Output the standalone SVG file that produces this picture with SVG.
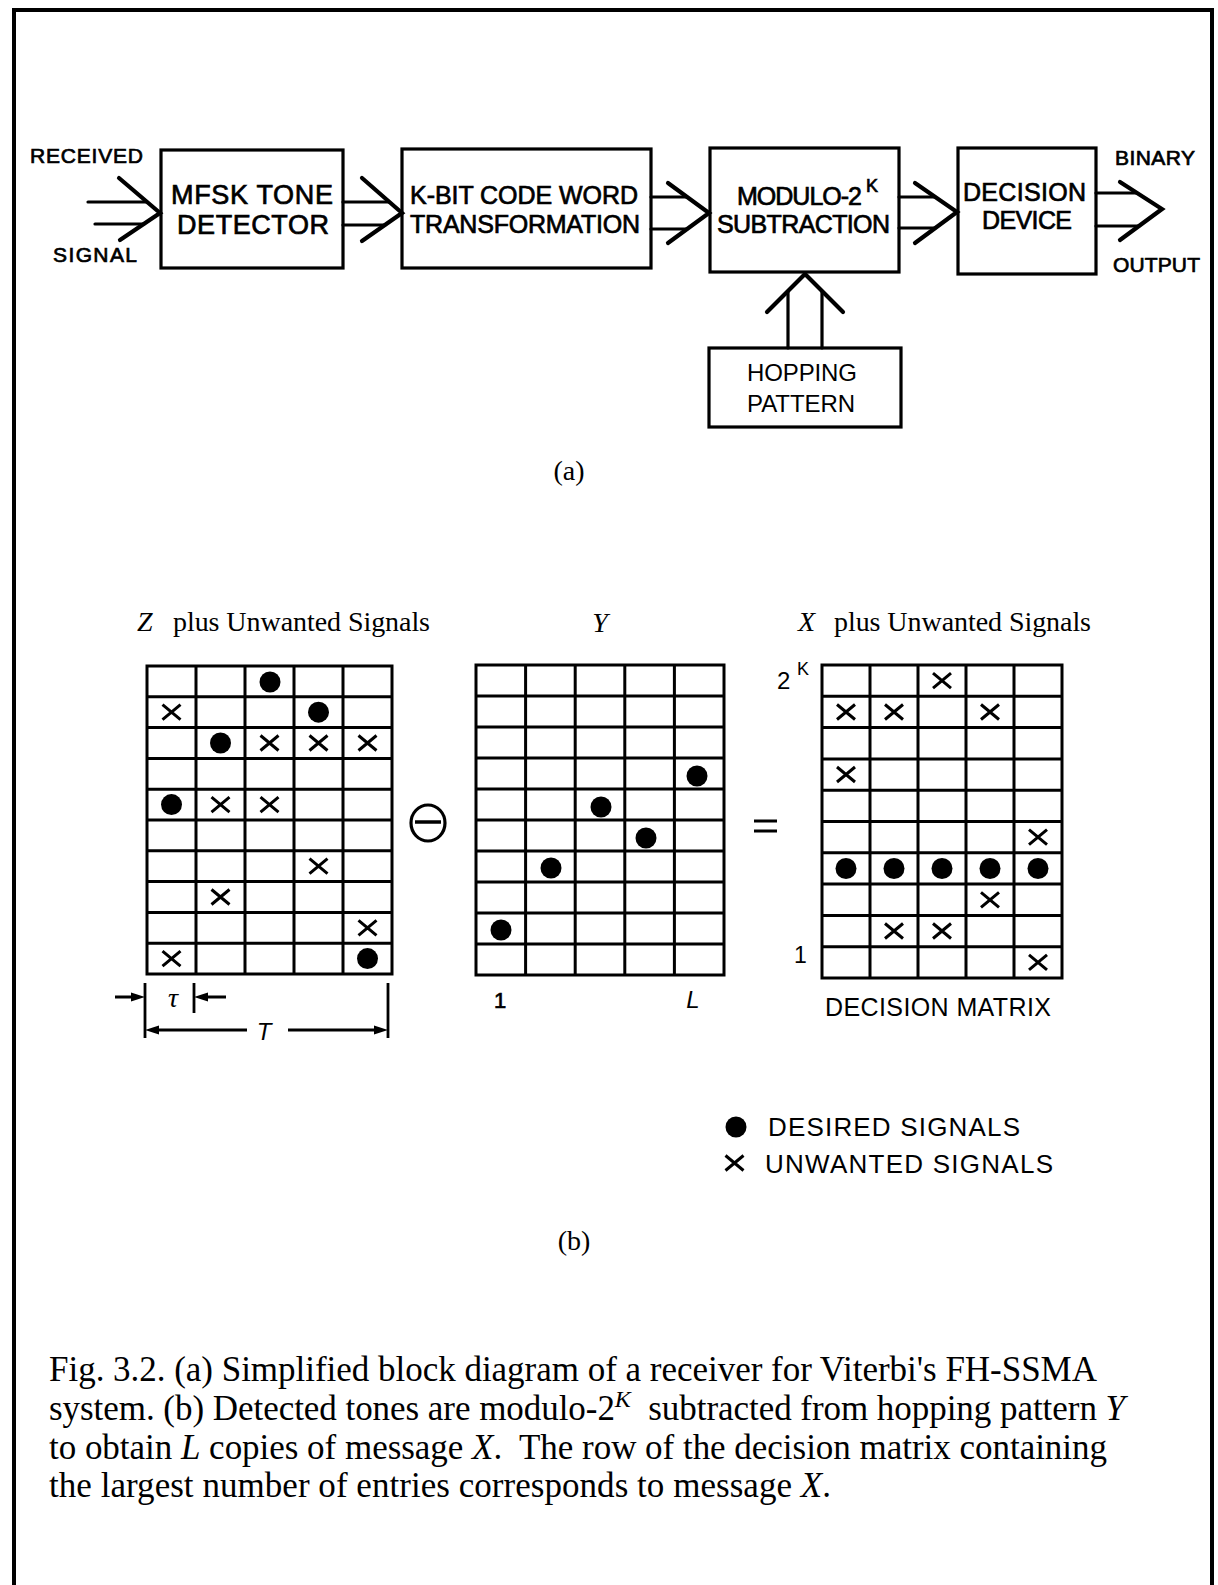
<svg xmlns="http://www.w3.org/2000/svg" width="1218" height="1585" viewBox="0 0 1218 1585">
<style>
.bx{fill:none;stroke:#000;stroke-width:3.2}
.ln{fill:none;stroke:#000;stroke-width:3.2;stroke-linecap:round;stroke-linejoin:round}
.ch{fill:none;stroke:#000;stroke-width:4.2;stroke-linecap:round;stroke-linejoin:miter}
.gr{fill:none;stroke:#000;stroke-width:3}
.xm{fill:none;stroke:#000;stroke-width:3;stroke-linecap:butt}
.sb{font-family:"Liberation Sans",Arial,sans-serif;fill:#000;stroke:#000;stroke-width:0.7}
.sr{font-family:"Liberation Sans",Arial,sans-serif;fill:#000}
.tm{font-family:"Liberation Serif","Times New Roman",serif;fill:#000}
.it{font-style:italic}
</style>
<defs>
<circle id="dot" r="10.5" fill="#000"/>
<path id="xx" class="xm" d="M-9,-7.5 L9,7.5 M-9,7.5 L9,-7.5"/>
</defs>
<rect width="1218" height="1585" fill="#fff"/>
<path d="M14,1585 L14,10 L1212,10 L1212,1585" fill="none" stroke="#000" stroke-width="4"/>

<!-- Part (a) -->
<g id="lbl-received">
<text class="sb" x="30" y="163" font-size="21" textLength="113">RECEIVED</text>
<text class="sb" x="53" y="262" font-size="21" textLength="84">SIGNAL</text>
</g>
<g id="node-mfsk">
<rect class="bx" x="161" y="150" width="182" height="118"/>
<text class="sb" x="171" y="204" font-size="27" textLength="162">MFSK TONE</text>
<text class="sb" x="177" y="234" font-size="27" textLength="152">DETECTOR</text>
</g>
<g id="node-kbit">
<rect class="bx" x="402" y="149" width="249" height="119"/>
<text class="sb" x="410" y="204" font-size="25" textLength="228">K-BIT CODE WORD</text>
<text class="sb" x="410" y="233" font-size="25" textLength="230">TRANSFORMATION</text>
</g>
<g id="node-modulo">
<rect class="bx" x="710" y="148" width="189" height="124"/>
<text class="sb" x="737" y="205" font-size="25" textLength="125">MODULO-2</text>
<text class="sb" x="866" y="192" font-size="18" textLength="16">K</text>
<text class="sb" x="717" y="233" font-size="25" textLength="173">SUBTRACTION</text>
</g>
<g id="node-decision">
<rect class="bx" x="958" y="148" width="138" height="126"/>
<text class="sb" x="963" y="201" font-size="25" textLength="123">DECISION</text>
<text class="sb" x="982" y="229" font-size="25" textLength="90">DEVICE</text>
</g>
<g id="lbl-binary">
<text class="sb" x="1115" y="165" font-size="21" textLength="80">BINARY</text>
<text class="sb" x="1113" y="272" font-size="21" textLength="87">OUTPUT</text>
</g>
<g id="node-hopping">
<rect class="bx" x="709" y="348" width="192" height="79"/>
<text class="sr" x="747" y="381" font-size="24" textLength="110">HOPPING</text>
<text class="sr" x="747" y="412" font-size="24" textLength="108">PATTERN</text>
</g>

<g id="connectors">
<path class="ln" d="M88,202 L147,202 M95,224 L144,224"/>
<path class="ch" d="M119,178 L160,213 L120,240"/>
<path class="ln" d="M343,202 L389,202 M343,225 L385,225"/>
<path class="ch" d="M362,178 L402,213 L362,241"/>
<path class="ln" d="M651,197 L687,197 M651,229 L687,229"/>
<path class="ch" d="M668,183 L709,213 L668,243"/>
<path class="ln" d="M899,197 L935,197 M899,228 L935,228"/>
<path class="ch" d="M915,183 L957,212 L915,243"/>
<path class="ln" d="M1096,193 L1137,193 M1096,226 L1139,226"/>
<path class="ch" d="M1120,182 L1162,209 L1120,240"/>
<path class="ln" d="M788,348 L788,291 M822,348 L822,291"/>
<path class="ch" d="M767,312 L805,274 L843,312"/>
</g>

<text class="tm" x="569" y="480" font-size="28" text-anchor="middle">(a)</text>

<!-- Part (b) -->
<g id="title-z">
<text class="tm it" x="137" y="631" font-size="28">Z</text>
<text class="tm" x="173" y="631" font-size="28" textLength="257">plus Unwanted Signals</text>
</g>
<g id="title-y"><text class="tm it" x="600" y="632" font-size="28" text-anchor="middle">Y</text></g>
<g id="title-x">
<text class="tm it" x="798" y="631" font-size="28">X</text>
<text class="tm" x="834" y="631" font-size="28" textLength="257">plus Unwanted Signals</text>
</g>

<g id="grid-z">
<rect class="gr" x="147" y="666" width="245" height="308"/>
<path class="gr" d="M196,666V974M245,666V974M294,666V974M343,666V974
M147,696.8H392M147,727.6H392M147,758.4H392M147,789.2H392M147,820H392M147,850.8H392M147,881.6H392M147,912.4H392M147,943.2H392"/>
<use href="#dot" x="270" y="682"/>
<use href="#xx" x="171.5" y="712.2"/>
<use href="#dot" x="318.5" y="712.2"/>
<use href="#dot" x="220.5" y="743"/>
<use href="#xx" x="269.5" y="743"/>
<use href="#xx" x="318.5" y="743"/>
<use href="#xx" x="367.5" y="743"/>
<use href="#dot" x="171.5" y="804.6"/>
<use href="#xx" x="220.5" y="804.6"/>
<use href="#xx" x="269.5" y="804.6"/>
<use href="#xx" x="318.5" y="866.2"/>
<use href="#xx" x="220.5" y="897"/>
<use href="#xx" x="367.5" y="927.8"/>
<use href="#xx" x="171.5" y="958.6"/>
<use href="#dot" x="367.5" y="958.6"/>
</g>

<g id="op-minus">
<ellipse cx="428" cy="823" rx="17" ry="18" fill="none" stroke="#000" stroke-width="3.2"/>
<path d="M415,822 H441" stroke="#000" stroke-width="3.5"/>
</g>

<g id="grid-y">
<rect class="gr" x="476" y="665" width="248" height="310"/>
<path class="gr" d="M525.6,665V975M575.2,665V975M624.8,665V975M674.4,665V975
M476,696H724M476,727H724M476,758H724M476,789H724M476,820H724M476,851H724M476,882H724M476,913H724M476,944H724"/>
<use href="#dot" x="697" y="776"/>
<use href="#dot" x="601" y="807"/>
<use href="#dot" x="646" y="838"/>
<use href="#dot" x="551" y="868"/>
<use href="#dot" x="501" y="930"/>
<text class="sb" x="500" y="1008" font-size="22" text-anchor="middle" stroke-width="0.4">1</text>
<text class="sr it" x="693" y="1008" font-size="24" text-anchor="middle">L</text>
</g>

<g id="op-equals">
<path d="M754,821 H777 M754,831 H777" stroke="#000" stroke-width="3"/>
</g>

<g id="grid-x">
<rect class="gr" x="822" y="665" width="240" height="313"/>
<path class="gr" d="M870,665V978M918,665V978M966,665V978M1014,665V978
M822,696.3H1062M822,727.6H1062M822,758.9H1062M822,790.2H1062M822,821.5H1062M822,852.8H1062M822,884.1H1062M822,915.4H1062M822,946.7H1062"/>
<use href="#xx" x="942" y="680.7"/>
<use href="#xx" x="846" y="712"/>
<use href="#xx" x="894" y="712"/>
<use href="#xx" x="990" y="712"/>
<use href="#xx" x="846" y="774.5"/>
<use href="#xx" x="1038" y="837.2"/>
<use href="#dot" x="846" y="868.5"/>
<use href="#dot" x="894" y="868.5"/>
<use href="#dot" x="942" y="868.5"/>
<use href="#dot" x="990" y="868.5"/>
<use href="#dot" x="1038" y="868.5"/>
<use href="#xx" x="990" y="899.8"/>
<use href="#xx" x="894" y="931"/>
<use href="#xx" x="942" y="931"/>
<use href="#xx" x="1038" y="962.4"/>
<text class="sr" x="777" y="689" font-size="24">2</text>
<text class="sr" x="797" y="675" font-size="18">K</text>
<text class="sr" x="794" y="963" font-size="23">1</text>
<text class="sr" x="825" y="1016" font-size="25" textLength="226">DECISION MATRIX</text>
</g>

<g id="dim-tau-t">
<path d="M145,983V1038M194,983V1013M388,983V1038" stroke="#000" stroke-width="2.8" fill="none"/>
<path d="M115,997H133M208,997H226M157,1030H247M288,1030H376" stroke="#000" stroke-width="2.8" fill="none"/>
<polygon points="145,997 131,992.5 131,1001.5" fill="#000"/>
<polygon points="194,997 208,992.5 208,1001.5" fill="#000"/>
<polygon points="145,1030 159,1025.5 159,1034.5" fill="#000"/>
<polygon points="388,1030 374,1025.5 374,1034.5" fill="#000"/>
<text class="tm it" x="173" y="1007" font-size="28" text-anchor="middle">τ</text>
<text class="sr it" x="264" y="1040" font-size="24" text-anchor="middle">T</text>
</g>

<g id="legend">
<use href="#dot" x="736" y="1127"/>
<use href="#xx" x="734.5" y="1163"/>
<text class="sr" x="768" y="1136" font-size="26" textLength="252">DESIRED SIGNALS</text>
<text class="sr" x="765" y="1173" font-size="26" textLength="288">UNWANTED SIGNALS</text>
</g>

<text class="tm" x="574" y="1250" font-size="28" text-anchor="middle">(b)</text>

<g id="caption">
<text class="tm" x="49" y="1381" font-size="35" textLength="1048">Fig. 3.2. (a) Simplified block diagram of a receiver for Viterbi's FH-SSMA</text>
<text class="tm" x="49" y="1420" font-size="35" textLength="1076">system. (b) Detected tones are modulo-2<tspan class="it" dy="-13" font-size="24">K</tspan><tspan dy="13">&#160; subtracted from hopping pattern </tspan><tspan class="it">Y</tspan></text>
<text class="tm" x="49" y="1459" font-size="35" textLength="1058">to obtain <tspan class="it">L</tspan> copies of message <tspan class="it">X</tspan>.&#160; The row of the decision matrix containing</text>
<text class="tm" x="49" y="1497" font-size="35" textLength="782">the largest number of entries corresponds to message <tspan class="it">X</tspan>.</text>
</g>
</svg>
